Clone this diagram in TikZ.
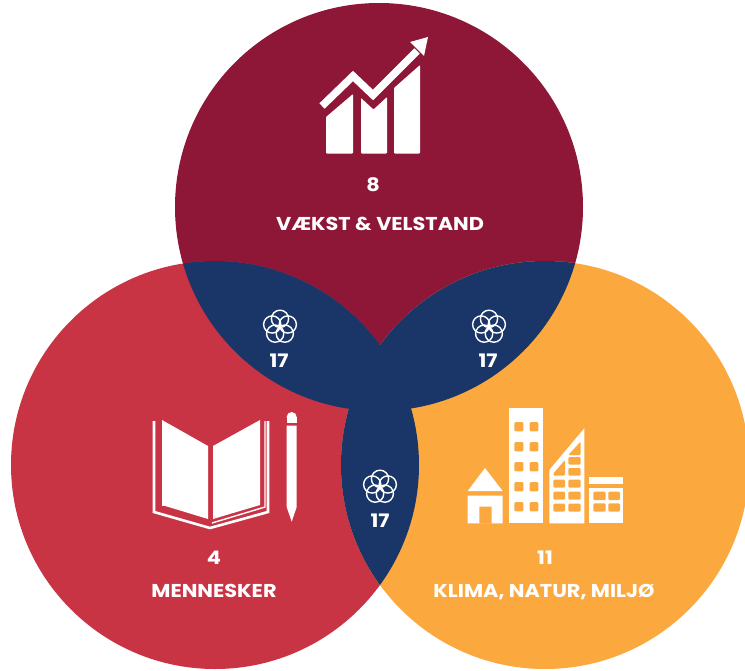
\documentclass[tikz,border=0pt]{standalone}
\usepackage{graphicx}
\usepackage{fontspec}
\setmainfont{Poppins}
\definecolor{topc}{HTML}{8E1737}
\definecolor{leftc}{HTML}{C93445}
\definecolor{rightc}{HTML}{FBA93E}
\definecolor{navyc}{HTML}{1A3668}
\tikzset{
  label text/.style={text=white,font=\fontsize{18.6}{20}\selectfont\bfseries,inner sep=0pt,text depth=0pt},
  num text/.style={text=white,font=\fontsize{18.6}{20}\selectfont\bfseries,inner sep=0pt,text depth=0pt},
  icon/.style={fill=white,draw=none},
  iconline/.style={draw=white,fill=none,line join=miter},
  flowerring/.style={draw=white,line width=1.4pt,fill=none},
  win/.style={fill=#1,draw=none,rounded corners=1.2pt}
}
\newcommand{\flowerat}[2]{%
  \foreach \a in {90,162,234,306,18}{
    \draw[flowerring] ($(#1,#2)+(\a:8.2 and -8.2)$) circle[radius=8.6];
  }}
\newcommand{\wide}[1]{\scalebox{1.12}[1]{#1}}
\usetikzlibrary{calc}
\begin{document}
\begin{tikzpicture}[x=1pt,y=-1pt]
\useasboundingbox (0,0) rectangle (745,670);
\clip (0,0) rectangle (745,670);
\fill[white] (0,0) rectangle (745,670);
% circles
\fill[topc] (379,207) circle[radius=204];
\fill[leftc] (215,465) circle[radius=204];
\fill[rightc] (545,465) circle[radius=204];
% overlaps
\begin{scope}
  \clip (379,207) circle[radius=204];
  \fill[navyc] (215,465) circle[radius=204];
  \fill[navyc] (545,465) circle[radius=204];
\end{scope}
\begin{scope}
  \clip (215,465) circle[radius=204];
  \fill[navyc] (545,465) circle[radius=204];
\end{scope}
% chart icon
\fill[icon,rounded corners=0.8pt] (326,153.5) -- (326,117) -- (353,94) -- (353,153.5) -- cycle;
\fill[icon,rounded corners=0.8pt] (361,153.5) -- (361,98) -- (373.5,109.5) -- (387,97) -- (387,153.5) -- cycle;
\fill[icon,rounded corners=0.8pt] (394,153.5) -- (394,88) -- (420,65) -- (420,153.5) -- cycle;
\draw[white,line width=7.5pt,line join=miter] (322,106) -- (353,76) -- (373,95) -- (417,51);
\fill[icon] (428,37) -- (424,56) -- (410,42) -- cycle;
% book icon
\fill[icon] (162,420) -- (208,446) -- (208,519) -- (162,505) -- cycle;
\fill[icon] (213,446) -- (260,420) -- (260,505) -- (213,519) -- cycle;
\draw[iconline,line width=2.6pt] (154,421) -- (154,512) -- (210,528) -- (268,512) -- (268,421);
\draw[iconline,line width=1.4pt] (163,421) -- (163,506);
\draw[iconline,line width=1.4pt] (265,421) -- (265,507) -- (212,523);
\fill[icon] (291.7,417) circle[radius=5];
\fill[icon] (286.7,417) rectangle (296.7,423);
\fill[icon] (286.7,425.5) -- (296.7,425.5) -- (296.7,507) -- (291.7,521.7) -- (286.7,507) -- cycle;
% city icon
\fill[icon] (485,468) -- (502.7,491) -- (467.7,491) -- cycle;
\fill[icon,even odd rule] (467.7,495.7) rectangle (502.7,523.3) (479.3,506.7) rectangle (491.7,523.4);
\fill[icon] (509,407.7) rectangle (543.3,523.3);
\foreach \yy in {426.7,446.7,466.7,486.7,506.7}{
  \fill[win=rightc] (514.3,\yy-4.7) rectangle (523.3,\yy+4.7);
  \fill[win=rightc] (529.7,\yy-4.7) rectangle (538.3,\yy+4.7);
}
\fill[icon] (549.3,523.3) -- (549.3,470) -- (584.3,428.3) -- (584.3,523.3) -- cycle;
\fill[win=rightc] (580.7,441.5) -- (568.3,455) -- (580.7,455) -- cycle;
\fill[win=rightc] (568.3,457) rectangle (580.7,464.5);
\fill[win=rightc] (568.3,468) rectangle (580.7,475.5);
\fill[win=rightc] (565,460) -- (553.3,473.5) -- (553.3,475.5) -- (565,475.5) -- cycle;
\foreach \yy in {483.5,495.5,507.5}{
  \fill[win=rightc] (553.3,\yy-4) rectangle (565,\yy+4);
  \fill[win=rightc] (568.3,\yy-4) rectangle (580.7,\yy+4);
}
\fill[icon] (589,477.3) rectangle (623.3,484);
\fill[icon] (589,487.7) rectangle (623.3,523.3);
\foreach \yy in {491.7,503.3}{
  \fill[win=rightc] (593.3,\yy) rectangle (605.7,\yy+8.3);
  \fill[win=rightc] (608.3,\yy) rectangle (620,\yy+8.3);
}
% flowers
\flowerat{280}{327}
\flowerat{489}{327}
\flowerat{380}{487}
% texts
\node[num text] (n8) at (373,185) {\wide{8}};
\node[label text] (vaekst) at (380,224) {\wide{VÆKST \& VELSTAND}};
\node[num text] (n4) at (214,558) {\wide{4}};
\node[label text] (menn) at (214,591) {\wide{MENNESKER}};
\node[num text] (n11) at (545,558) {\wide{11}};
\node[label text] (klima) at (544,591) {\wide{KLIMA, NATUR, MILJØ}};
\node[num text] (s1) at (279,361) {\wide{17}};
\node[num text] (s2) at (488,361) {\wide{17}};
\node[num text] (s3) at (380,521) {\wide{17}};
\end{tikzpicture}
\end{document}
